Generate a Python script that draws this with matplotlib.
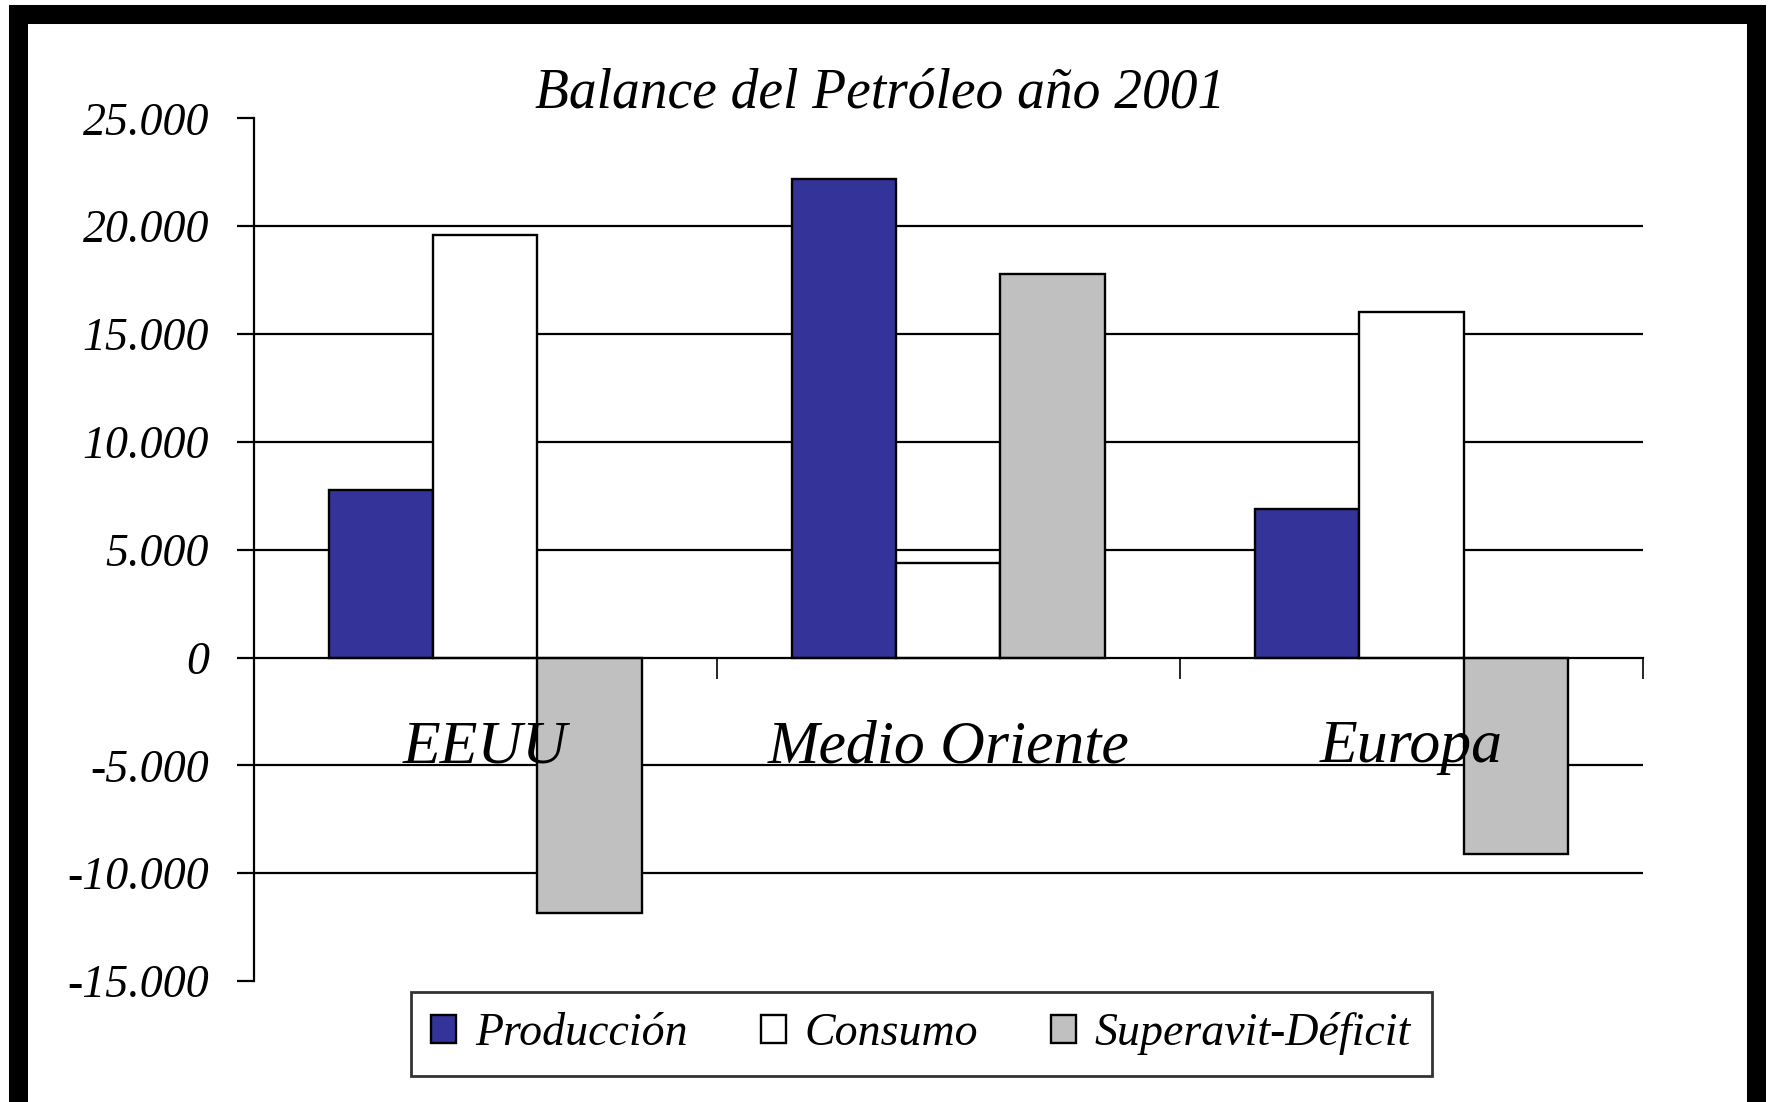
import matplotlib
matplotlib.use("Agg")
import matplotlib.pyplot as plt
import numpy as np
from matplotlib.patches import Rectangle

# datos (miles de barriles diarios)
regiones = ["EEUU", "Medio Oriente", "Europa"]
produccion = [7750, 22200, 6900]
consumo = [19600, 4400, 16000]
superavit = [-11850, 17800, -9100]
series = ["Producción", "Consumo", "Superavit-Déficit"]
colores = ["#333399", "#FFFFFF", "#C0C0C0"]
yticks = [-15000, -10000, -5000, 0, 5000, 10000, 15000, 20000, 25000]

plt.rcParams['font.family'] = ['Liberation Serif', 'DejaVu Serif']

fig = plt.figure(figsize=(17.68, 11.02), dpi=100)
ax = fig.add_axes([0.1435, 0.1098, 0.7858, 0.7828])

x = np.arange(len(regiones))
w = 0.225
for i, (vals, nombre, color) in enumerate(zip([produccion, consumo, superavit], series, colores)):
    ax.bar(x + (i - 1) * w, vals, w, color=color, edgecolor='black',
           linewidth=1.7, label=nombre, zorder=3)

ax.set_xlim(-0.5, 2.5)
ax.set_ylim(-15000, 25000)

# lineas de division (sin la de arriba, ni la del cero)
for v in yticks:
    if v not in (yticks[0], 0, yticks[-1]):
        ax.axhline(v, color='black', lw=1.6, zorder=1)

ax.spines['top'].set_visible(False)
ax.spines['right'].set_visible(False)
ax.spines['bottom'].set_position(('data', 0))
ax.spines['left'].set_linewidth(1.6)
ax.spines['bottom'].set_linewidth(1.6)
ax.spines['bottom'].set_zorder(4)

ax.set_yticks(yticks)
ax.set_yticklabels([f"{v:,.0f}".replace(",", ".") for v in yticks])
ax.tick_params(axis='y', direction='out', length=12, width=1.6, labelsize=33, pad=20)
for lbl in ax.get_yticklabels():
    lbl.set_style('italic')

ax.set_xticks([0.5, 1.5, 2.5])
ax.set_xticklabels([])
ax.tick_params(axis='x', direction='out', length=15, width=1.2)

for xi, nombre in zip(x, regiones):
    ax.text(xi, -4850, nombre, ha='center', va='baseline', fontsize=44.5,
            style='italic', zorder=5)

fig.text(0.498, 0.915, "Balance del Petróleo año 2001", ha='center', va='center',
         fontsize=40, style='italic')

leg = fig.legend(loc='center', bbox_to_anchor=(0.521, 0.062), ncol=3, frameon=True,
                 fancybox=False, edgecolor='black', prop={'style': 'italic', 'size': 33},
                 handlelength=0.55, handleheight=0.55, handletextpad=0.4,
                 columnspacing=1.6, borderpad=0.45)
leg.get_frame().set_linewidth(2)

# marco negro alrededor de la figura
fig.patches.append(Rectangle((17.5 / 1768, -0.003), (1756 - 17.5) / 1768, 0.9907,
                             transform=fig.transFigure, fill=False,
                             edgecolor='black', linewidth=13.7))

fig.savefig("out.png", dpi=100)
